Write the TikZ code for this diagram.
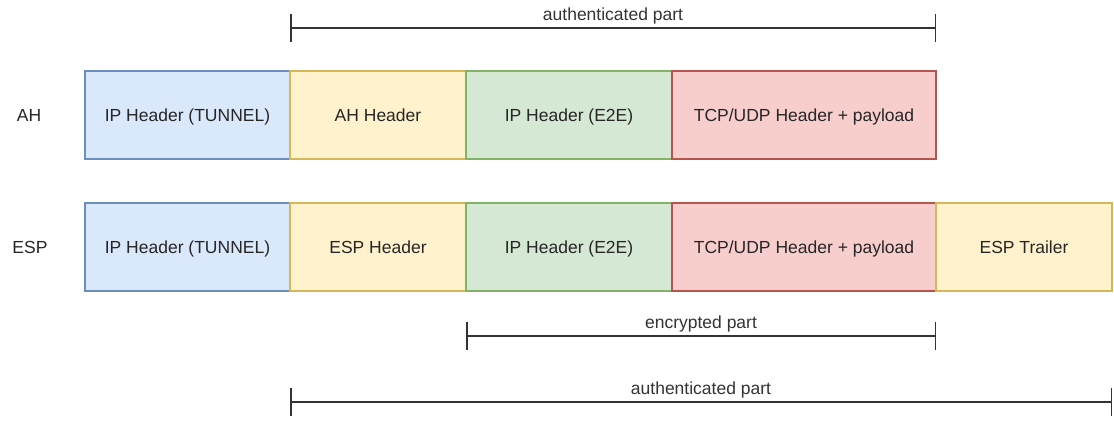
\documentclass[tikz,border=0pt]{standalone}
\usepackage{fontspec}
\setmainfont{Liberation Sans}
\usetikzlibrary{positioning, arrows.meta}
\definecolor{tunfill}{HTML}{DAE8FC}
\definecolor{tunline}{HTML}{6C8EBF}
\definecolor{hdrfill}{HTML}{FFF2CC}
\definecolor{hdrline}{HTML}{D6B656}
\definecolor{eefill}{HTML}{D5E8D4}
\definecolor{eeline}{HTML}{82B366}
\definecolor{payfill}{HTML}{F8CECC}
\definecolor{payline}{HTML}{B85450}
\tikzset{
  seg/.style={rectangle, line width=1.2pt, minimum height=88pt, outer sep=0pt, inner sep=0pt,
    text height=16.5pt, text depth=3.7pt},
  tun/.style={seg, draw=tunline, fill=tunfill, minimum width=205pt},
  hdr/.style={seg, draw=hdrline, fill=hdrfill, minimum width=176pt},
  ee/.style={seg, draw=eeline, fill=eefill, minimum width=206pt},
  pay/.style={seg, draw=payline, fill=payfill, minimum width=264pt},
  rowlbl/.style={inner sep=0pt, text height=16.5pt, text depth=3.7pt}
}
\tikzstyle{span} = [line width=1.5pt, black!80, {Bar[width=28pt]}-{Bar[width=28pt]}]

\begin{document}
\begin{tikzpicture}[x=1pt,y=1pt,font=\fontsize{17.5}{21}\selectfont,text=black!85]
    \useasboundingbox (0,0) rectangle (1114,-423);
    % AH row
    \node [tun] (a) at (187.5,-115) {IP Header (TUNNEL)};
    \node [hdr, right=0pt of a] (b) {AH Header};
    \node [ee, right=0pt of b] (c) {IP Header (E2E)};
    \node [pay, right=0pt of c] (d) {TCP/UDP Header + payload};
    \node [rowlbl] (ah) at ([xshift=-158.5pt]a.center) {AH};
    % ESP row
    \node [tun] (e) at (187.5,-247) {IP Header (TUNNEL)};
    \node [hdr, right=0pt of e] (f) {ESP Header};
    \node [ee, right=0pt of f] (g) {IP Header (E2E)};
    \node [pay, right=0pt of g] (h) {TCP/UDP Header + payload};
    \node [hdr, right=0pt of h] (i) {ESP Trailer};
    \node [rowlbl] (esp) at ([xshift=-157.5pt]e.center) {ESP};
    % brackets
    \draw [span] ([yshift=43pt]b.north west) -- node[above] {authenticated part} ([yshift=43pt]d.north east);
    \draw [span] ([yshift=-45pt]g.south west) -- node[above] {encrypted part} ([yshift=-45pt]h.south east);
    \draw [span] ([yshift=-111pt]f.south west) -- node[above] {authenticated part} ([yshift=-111pt]i.south east);
\end{tikzpicture}
\end{document}
